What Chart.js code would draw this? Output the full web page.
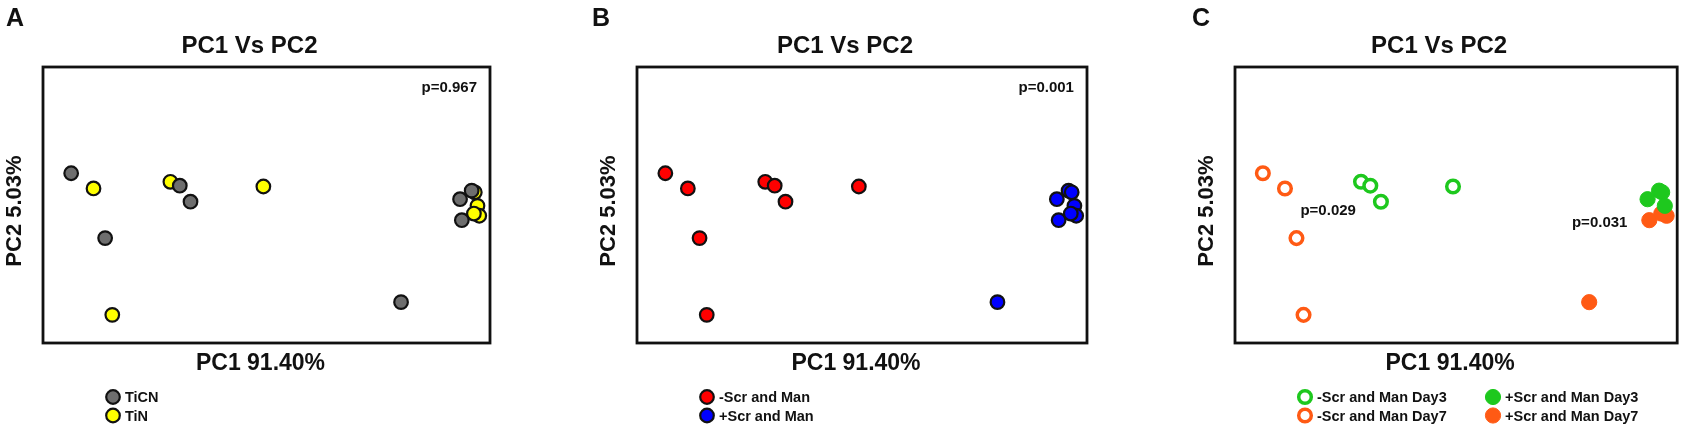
<!DOCTYPE html>
<html>
<head>
<meta charset="utf-8">
<script src="https://cdn.jsdelivr.net/npm/chart.js@4/dist/chart.umd.min.js"></script>
<style>
  body { margin: 0; background: #fff; width: 1687px; height: 430px; overflow: hidden; position: relative; }
  .panel { position: absolute; top: 0; height: 430px; }
</style>
</head>
<body>
<div class="panel" style="left:0;width:560px"><canvas id="chartA"></canvas></div>
<div class="panel" style="left:560px;width:560px"><canvas id="chartB"></canvas></div>
<div class="panel" style="left:1120px;width:567px"><canvas id="chartC"></canvas></div>
<script>
// PCA scores (same 16 samples in every panel), units = % of plot frame
const pc1 = [6.3, 11.3, 13.9, 15.5, 28.5, 30.6, 33.0, 49.3, 80.1, 95.9, 96.6, 93.3, 97.2, 93.7, 97.6, 96.4];
const pc2 = [61.5, 56.0, 38.0, 10.2, 58.4, 57.0, 51.2, 56.7, 14.8, 55.2, 54.6, 52.1, 49.7, 44.5, 46.1, 46.9];
const coating = ['TiCN','TiN','TiCN','TiN','TiN','TiCN','TiCN','TiN','TiCN','TiCN','TiN','TiCN','TiN','TiCN','TiN','TiN'];
const treatment = ['-','-','-','-','-','-','-','-','+','+','+','+','+','+','+','+'];
const day = [7, 7, 7, 7, 3, 3, 3, 3, 7, 3, 3, 3, 3, 7, 7, 7];

const panelLetters = ['A', 'B', 'C'];
const plotTitle = 'PC1 Vs PC2';
const xTitle = 'PC1 91.40%';
const yTitle = 'PC2 5.03%';
const pValuesA = ['p=0.967'];
const pValuesB = ['p=0.001'];
const pValuesC = ['p=0.029', 'p=0.031'];

const FONT = '"Liberation Sans", Arial, sans-serif';

function pick(test) {
  let pts = [];
  for (let i = 0; i < pc1.length; i++) {
    if (test(i)) pts.push({x: pc1[i], y: pc2[i]});
  }
  return pts;
}

const panelText = {
  id: 'panelText',
  beforeDatasetsDraw(chart, args, opts) {
    const {ctx, chartArea: a} = chart;
    ctx.save();
    ctx.lineWidth = 2.8;
    ctx.strokeStyle = '#111';
    ctx.strokeRect(a.left, a.top, a.right - a.left, a.bottom - a.top);
    ctx.restore();
  },
  afterDraw(chart, args, opts) {
    const {ctx, chartArea: a, scales} = chart;
    const cx = (a.left + a.right) / 2;
    ctx.save();
    ctx.fillStyle = '#111';
    ctx.textBaseline = 'alphabetic';

    ctx.font = 'bold 25px ' + FONT;
    ctx.textAlign = 'left';
    ctx.fillText(opts.letter, a.left + opts.letterDx, 26);

    ctx.textAlign = 'center';
    ctx.font = 'bold 24px ' + FONT;
    ctx.fillText(plotTitle, cx - 17, 53);
    ctx.font = 'bold 23px ' + FONT;
    ctx.fillText(xTitle, cx - 6, 370);

    ctx.save();
    ctx.translate(a.left - 22, (a.top + a.bottom) / 2 + 6);
    ctx.rotate(-Math.PI / 2);
    ctx.font = 'bold 22px ' + FONT;
    ctx.fillText(yTitle, 0, 0);
    ctx.restore();

    // p-value notes placed in data units
    ctx.font = 'bold 15px ' + FONT;
    opts.notes.forEach(n => {
      ctx.textAlign = n.align;
      ctx.fillText(n.text, scales.x.getPixelForValue(n.x), scales.y.getPixelForValue(n.y));
    });

    // legend, filled column by column
    ctx.font = 'bold 14.5px ' + FONT;
    ctx.textAlign = 'left';
    chart.data.datasets.forEach((ds, i) => {
      const col = Math.floor(i / 2), row = i % 2;
      const px = a.left + 70 + col * 188;
      const py = 397 + row * 18.5;
      ctx.beginPath();
      ctx.arc(px, py, ds.pointRadius, 0, Math.PI * 2);
      ctx.fillStyle = ds.pointBackgroundColor;
      ctx.fill();
      ctx.lineWidth = ds.pointBorderWidth;
      ctx.strokeStyle = ds.pointBorderColor;
      ctx.stroke();
      ctx.fillStyle = '#111';
      ctx.fillText(ds.label, px + 12, py + 5);
    });
    ctx.restore();
  }
};

function marker(label, data, fill, border, bw, r) {
  return {
    label: label,
    data: data,
    pointBackgroundColor: fill,
    pointBorderColor: border,
    pointBorderWidth: bw,
    pointRadius: r,
    pointHoverRadius: r,
    showLine: false
  };
}

function makeChart(id, datasets, pad, deco) {
  return new Chart(document.getElementById(id), {
    type: 'scatter',
    data: {datasets: datasets},
    options: {
      responsive: true,
      maintainAspectRatio: false,
      animation: false,
      events: [],
      layout: {padding: {left: pad[0], right: pad[1], top: 67, bottom: 87}},
      scales: {
        x: {type: 'linear', min: 0, max: 100, display: false},
        y: {type: 'linear', min: 0, max: 100, display: false}
      },
      plugins: {
        legend: {display: false},
        tooltip: {enabled: false},
        panelText: deco
      }
    },
    plugins: [panelText]
  });
}

makeChart('chartA', [
  marker('TiCN', pick(i => coating[i] === 'TiCN'), '#6e6e6e', '#111', 2.2, 6.8),
  marker('TiN', pick(i => coating[i] === 'TiN'), '#ffff00', '#111', 2.2, 6.8)
], [43, 70], {
  letter: panelLetters[0], letterDx: -37,
  notes: [{text: pValuesA[0], x: 97.1, y: 90.8, align: 'right'}]
});

makeChart('chartB', [
  marker('-Scr and Man', pick(i => treatment[i] === '-'), '#ff0000', '#111', 2.2, 6.8),
  marker('+Scr and Man', pick(i => treatment[i] === '+'), '#0000ff', '#111', 2.2, 6.8)
], [77, 33], {
  letter: panelLetters[1], letterDx: -45,
  notes: [{text: pValuesB[0], x: 97.1, y: 90.8, align: 'right'}]
});

makeChart('chartC', [
  marker('-Scr and Man Day3', pick(i => treatment[i] === '-' && day[i] === 3), '#ffffff', '#1ec81e', 3.5, 6.3),
  marker('-Scr and Man Day7', pick(i => treatment[i] === '-' && day[i] === 7), '#ffffff', '#ff5a14', 3.5, 6.3),
  marker('+Scr and Man Day3', pick(i => treatment[i] === '+' && day[i] === 3), '#1ec81e', '#1ec81e', 1, 7.6),
  marker('+Scr and Man Day7', pick(i => treatment[i] === '+' && day[i] === 7), '#ff5a14', '#ff5a14', 1, 7.6)
], [115, 6], {
  letter: panelLetters[2], letterDx: -43,
  notes: [
    {text: pValuesC[0], x: 14.8, y: 46.2, align: 'left'},
    {text: pValuesC[1], x: 76.2, y: 41.9, align: 'left'}
  ]
});
</script>
</body>
</html>
